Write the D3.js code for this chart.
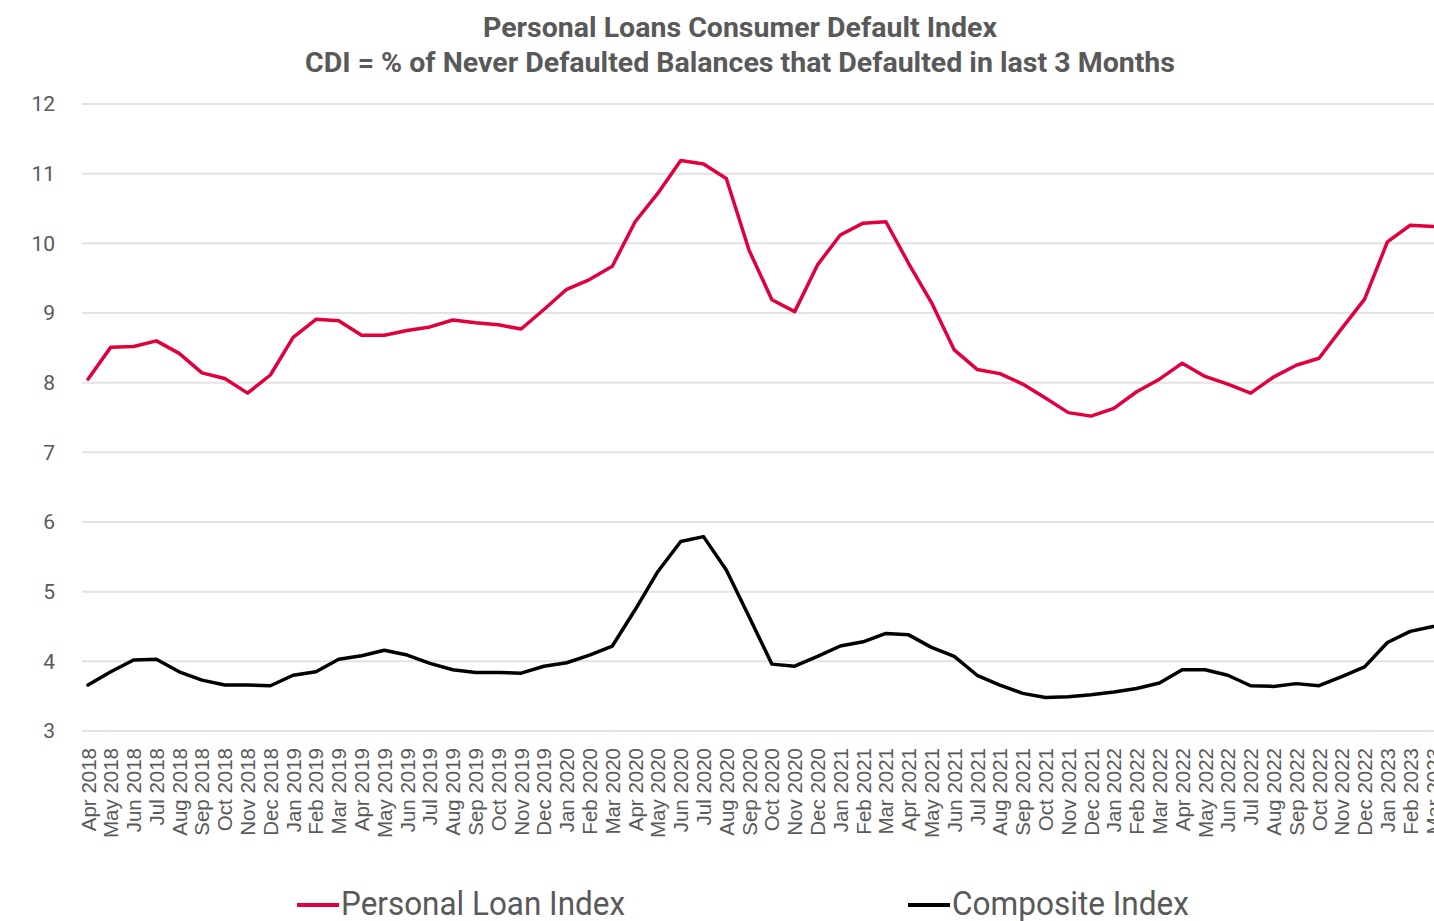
<!DOCTYPE html>
<html>
<head>
<meta charset="utf-8">
<script src="https://cdn.jsdelivr.net/npm/d3@7"></script>
<style>
  html, body { margin: 0; padding: 0; background: #fff; overflow: hidden; }
  svg { display: block; }
</style>
</head>
<body>
<svg id="chart" width="1434" height="921"></svg>
<script>
// Monthly categories, Apr 2018 – Mar 2023
const months = [
  "Apr 2018","May 2018","Jun 2018","Jul 2018","Aug 2018","Sep 2018","Oct 2018","Nov 2018","Dec 2018",
  "Jan 2019","Feb 2019","Mar 2019","Apr 2019","May 2019","Jun 2019","Jul 2019","Aug 2019","Sep 2019","Oct 2019","Nov 2019","Dec 2019",
  "Jan 2020","Feb 2020","Mar 2020","Apr 2020","May 2020","Jun 2020","Jul 2020","Aug 2020","Sep 2020","Oct 2020","Nov 2020","Dec 2020",
  "Jan 2021","Feb 2021","Mar 2021","Apr 2021","May 2021","Jun 2021","Jul 2021","Aug 2021","Sep 2021","Oct 2021","Nov 2021","Dec 2021",
  "Jan 2022","Feb 2022","Mar 2022","Apr 2022","May 2022","Jun 2022","Jul 2022","Aug 2022","Sep 2022","Oct 2022","Nov 2022","Dec 2022",
  "Jan 2023","Feb 2023","Mar 2023"
];

const personalLoan = [
  8.05, 8.51, 8.52, 8.60, 8.42, 8.14, 8.06, 7.85, 8.11,
  8.65, 8.91, 8.89, 8.68, 8.68, 8.75, 8.80, 8.90, 8.86, 8.83, 8.77, 9.05,
  9.34, 9.48, 9.67, 10.31, 10.72, 11.19, 11.14, 10.93, 9.90, 9.19, 9.02, 9.69,
  10.12, 10.29, 10.31, 9.71, 9.15, 8.47, 8.19, 8.13, 7.98, 7.78, 7.57, 7.52,
  7.63, 7.87, 8.05, 8.28, 8.09, 7.98, 7.85, 8.08, 8.25, 8.35, 8.78, 9.20,
  10.02, 10.26, 10.24
];

const composite = [
  3.66, 3.85, 4.02, 4.03, 3.85, 3.73, 3.66, 3.66, 3.65,
  3.80, 3.85, 4.03, 4.08, 4.16, 4.09, 3.97, 3.88, 3.84, 3.84, 3.83, 3.93,
  3.98, 4.09, 4.22, 4.74, 5.29, 5.72, 5.79, 5.31, 4.64, 3.96, 3.93, 4.07,
  4.22, 4.28, 4.40, 4.38, 4.20, 4.07, 3.80, 3.66, 3.54, 3.48, 3.49, 3.52,
  3.56, 3.61, 3.69, 3.88, 3.88, 3.80, 3.65, 3.64, 3.68, 3.65, 3.78, 3.92,
  4.27, 4.43, 4.50
];

const yTicks = [3, 4, 5, 6, 7, 8, 9, 10, 11, 12];

const titleLines = [
  "Personal Loans Consumer Default Index",
  "CDI = % of Never Defaulted Balances that Defaulted in last 3 Months"
];

const seriesList = [
  { name: "Personal Loan Index", values: personalLoan, color: "#e2003c" },
  { name: "Composite Index", values: composite, color: "#000000" }
];

const svg = d3.select("#chart");
const textColor = "#595959";

const x = d3.scalePoint().domain(months).range([88, 1433]);
const y = d3.scaleLinear().domain([3, 12]).range([731, 104]);

// Horizontal gridlines
svg.append("g")
  .selectAll("line")
  .data(yTicks)
  .join("line")
  .attr("x1", 82)
  .attr("x2", 1440)
  .attr("y1", d => y(d))
  .attr("y2", d => y(d))
  .attr("stroke", "#e3e3e3")
  .attr("stroke-width", 2);

// Y axis labels
const yAxis = d3.axisLeft(y).tickValues(yTicks).tickSize(0).tickPadding(0).tickFormat(d3.format("d"));
svg.append("g")
  .attr("transform", "translate(55,0)")
  .call(yAxis)
  .call(g => g.select(".domain").remove())
  .selectAll("text")
  .attr("font-family", "Roboto, sans-serif")
  .attr("font-size", 21)
  .attr("fill", textColor);

// X axis labels, rotated
const xAxis = d3.axisBottom(x).tickSize(0).tickPadding(0);
svg.append("g")
  .attr("transform", "translate(0,748)")
  .call(xAxis)
  .call(g => g.select(".domain").remove())
  .selectAll("text")
  .attr("font-family", "'Liberation Sans', Arial, sans-serif")
  .attr("font-size", 20.5)
  .attr("fill", textColor)
  .attr("text-anchor", "end")
  .attr("dy", null)
  .attr("y", 0)
  .attr("transform", "rotate(-90) translate(0,7)");

// Series lines
const line = d3.line()
  .x((d, i) => x(months[i]))
  .y(d => y(d))
  .curve(d3.curveLinear);

svg.append("g")
  .selectAll("path")
  .data(seriesList)
  .join("path")
  .attr("d", d => line(d.values))
  .attr("fill", "none")
  .attr("stroke", d => d.color)
  .attr("stroke-width", 3.5)
  .attr("stroke-linejoin", "round")
  .attr("stroke-linecap", "round");

// Title
const titleWidths = [514, 870];
svg.append("g")
  .selectAll("text")
  .data(titleLines)
  .join("text")
  .attr("x", 740)
  .attr("y", (d, i) => 37 + i * 35)
  .attr("text-anchor", "middle")
  .attr("font-family", "Roboto, sans-serif")
  .attr("font-weight", "bold")
  .attr("font-size", 27)
  .attr("textLength", (d, i) => titleWidths[i])
  .attr("lengthAdjust", "spacingAndGlyphs")
  .attr("fill", textColor)
  .text(d => d);

// Legend
const legendX = [297, 908];
const legendWidths = [284, 237];
const legend = svg.append("g")
  .selectAll("g")
  .data(seriesList)
  .join("g")
  .attr("transform", (d, i) => `translate(${legendX[i]},905)`);
legend.append("line")
  .attr("x1", 0).attr("x2", 42)
  .attr("y1", 0).attr("y2", 0)
  .attr("stroke", d => d.color)
  .attr("stroke-width", 4);
legend.append("text")
  .attr("x", 44)
  .attr("y", 10)
  .attr("font-family", "Roboto, sans-serif")
  .attr("font-size", 33)
  .attr("textLength", (d, i) => legendWidths[i])
  .attr("lengthAdjust", "spacingAndGlyphs")
  .attr("fill", textColor)
  .text(d => d.name);
</script>
</body>
</html>
